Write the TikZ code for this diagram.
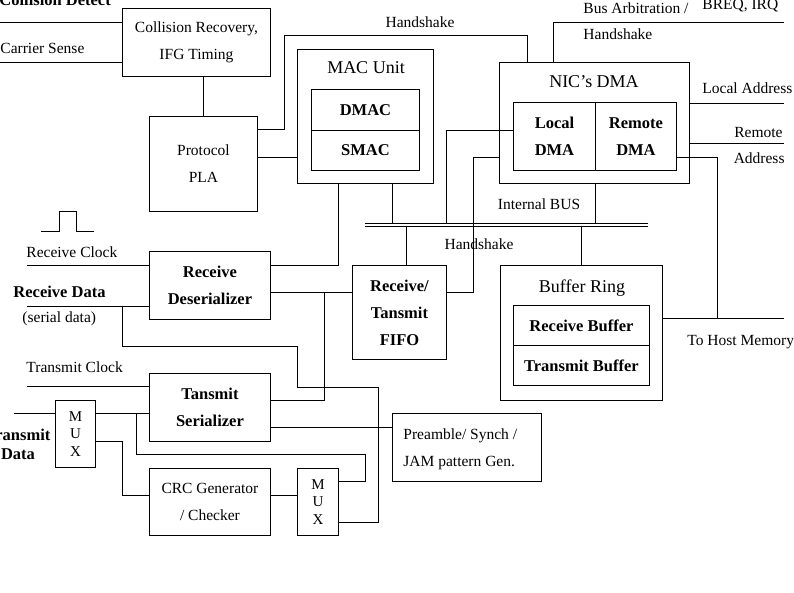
\documentclass[tikz,border=0pt]{standalone}
\usepackage{fontspec}
\setmainfont{Liberation Serif}
\newcommand\nrm{\fontsize{15.5}{27}\selectfont}
\newcommand\bld{\fontsize{16.5}{27}\selectfont\bfseries}
\newcommand\ttl{\fontsize{18}{27}\selectfont}
\newcommand\muxf{\fontsize{15}{17.5}\selectfont}
\tikzset{
  box/.style 2 args={draw,inner sep=0pt,anchor=north west,minimum width=#1,minimum height=#2,align=center,font=\nrm},
  lbl/.style={font=\nrm,inner sep=0pt},
  blbl/.style={font=\bld,inner sep=0pt},
  tlbl/.style={font=\ttl,inner sep=0pt,anchor=base},
}

\begin{document}
\begin{tikzpicture}[x=1pt,y=-1pt,line width=0.9pt]
	\useasboundingbox (0,0) rectangle (794,593);
	% blocks
	\node[box={148}{68}] (crr) at (122,8) {Collision Recovery,\\IFG Timing};
	\node[box={108}{95}] (pla) at (149,116) {Protocol\\PLA};
	\node[box={136}{134}] (mac) at (297,49) {};
	\node[box={108}{41},font=\bld] (dmac) at (311,89) {DMAC};
	\node[box={108}{40},font=\bld] (smac) at (311,130) {SMAC};
	\node[box={190}{121}] (nic) at (499,62) {};
	\node[box={82}{68},font=\bld] (ldma) at (513,102) {Local\\DMA};
	\node[box={81}{68},font=\bld] (rdma) at (595,102) {Remote\\DMA};
	\node[box={162}{135}] (ring) at (500,265) {};
	\node[box={136}{40},font=\bld] (rbuf) at (513,305) {Receive Buffer};
	\node[box={136}{40},font=\bld] (tbuf) at (513,345) {Transmit Buffer};
	\node[box={94}{94},font=\bld] (fifo) at (352,265) {Receive/\\Tansmit\\FIFO};
	\node[box={121}{68},font=\bld] (rdes) at (149,251) {Receive\\Deserializer};
	\node[box={121}{68},font=\bld] (tser) at (149,373) {Tansmit\\Serializer};
	\node[box={149}{68}] (pre) at (392,413) {};
	\node[box={121}{67}] (crc) at (149,468) {CRC Generator\\/ Checker};
	\node[box={40}{67},font=\muxf] (mux1) at (55,400) {M\\U\\X};
	\node[box={41}{67},font=\muxf] (mux2) at (297,468) {M\\U\\X};
	
	% titles and labels
	\node[tlbl] (mactit) at (366,74) {MAC Unit};
	\node[tlbl] (nictit) at (594,88) {NIC’s DMA};
	\node[tlbl] (ringtit) at (582,292) {Buffer Ring};
	\node[lbl,anchor=west,align=left] (pretxt) at (403,449) {Preamble/ Synch /\\JAM pattern Gen.};
	\node[blbl,anchor=base west] (cdlbl) at (-1,6) {Collision Detect};
	\node[lbl,anchor=base west] (cslbl) at (0,54) {Carrier Sense};
	\node[lbl,anchor=base] (hslbl) at (420,28) {Handshake};
	\node[lbl,anchor=base west] (balbl) at (583,14) {Bus Arbitration /};
	\node[lbl,anchor=base west] (irqlbl) at (702,10) {BREQ, IRQ};
	\node[lbl,anchor=base west] (hs2lbl) at (583,40) {Handshake};
	\node[lbl,anchor=base west] (lalbl) at (702,94) {Local Address};
	\node[lbl,anchor=base east] (ralbl) at (783,138) {Remote};
	\node[lbl,anchor=base east] (ralbl2) at (785,164) {Address};
	\node[lbl,anchor=base west] (hmlbl) at (687,345) {To Host Memory};
	\node[lbl,anchor=base] (buslbl) at (539,210) {Internal BUS};
	\node[lbl,anchor=base] (hs3lbl) at (479,250) {Handshake};
	\node[lbl,anchor=base west] (rclbl) at (26,258) {Receive Clock};
	\node[blbl,anchor=base west] (rdlbl) at (13,298) {Receive Data};
	\node[lbl,anchor=base west] (sdlbl) at (22,322) {(serial data)};
	\node[lbl,anchor=base west] (tclbl) at (26,372) {Transmit Clock};
	\node[blbl,align=center] (tdlbl) at (18,444) {Transmit\\[-8pt]Data};
	
	% free ends
	\coordinate (cd) at (0,22);
	\coordinate (cs) at (0,62);
	\coordinate (busl) at (365,223);
	\coordinate (busr) at (648,223);
	\coordinate (busl2) at (365,226);
	\coordinate (busr2) at (648,226);
	\coordinate (rc) at (27,265);
	\coordinate (rd) at (27,306);
	\coordinate (tc) at (27,386);
	\coordinate (td) at (14,413);
	
	% connectors
	\draw (cd) -- (crr.west |- cd);
	\draw (cs) -- (crr.west |- cs);
	\draw (pla.north) -- (pla.north |- crr.south);
	\draw (pla.east |- 0,129) -| (284,35) -| (nic.north -| 527,0);
	\draw (pla.east |- 0,157) -- (mac.west |- 0,157);
	\draw (busl) -- (busr);
	\draw (busl2) -- (busr2);
	\draw (mac.south -| 392,0) -- (busl -| 392,0);
	\draw (nic.south -| 595,0) -- (busl -| 595,0);
	\draw (ldma.west |- 0,130) -| (busl -| 446,0);
	\draw (nic.west |- 0,157) -| (473,292) -- (fifo.east |- 0,292);
	\draw (busl2 -| 406,0) -- (fifo.north -| 406,0);
	\draw (busl2 -| ring.north) -- (ring.north);
	\draw (nic.north -| 553,0) |- (784,22);
	\draw (nic.east |- 0,103) -- (784,103);
	\draw (nic.east |- 0,143) -- (784,143);
	\draw (rdma.east |- 0,157) -| (717,318);
	\draw (ring.east |- 0,318) -- (784,318);
	\draw (rdes.east |- 0,265) -| (mac.south -| 338,0);
	\draw (rdes.east |- 0,292) -- (fifo.west |- 0,292);
	\draw (tser.east |- 0,400) -| (324,292);
	\draw (tser.east |- 0,427) -- (pre.west |- 0,427);
	\draw (rc) -- (rdes.west |- rc);
	\draw (rd) -- (rdes.west |- rd);
	\draw (122,306) |- (297,346) |- (378,387) |- (mux2.east |- 0,522);
	\draw (tc) -- (tser.west |- tc);
	\draw (td) -- (mux1.west |- td);
	\draw (mux1.east |- td) -- (tser.west |- td);
	\draw (136,413) |- (365,454) |- (mux2.east |- 0,481);
	\draw (mux1.east |- 0,441) -| (122,495) -- (crc.west |- 0,495);
	\draw (crc.east |- 0,495) -- (mux2.west |- 0,495);
	% clock pulse
	\draw (41,231) -- (59,231) -- (59,211) -- (76,211) -- (76,231) -- (94,231);
\end{tikzpicture}
\end{document}
